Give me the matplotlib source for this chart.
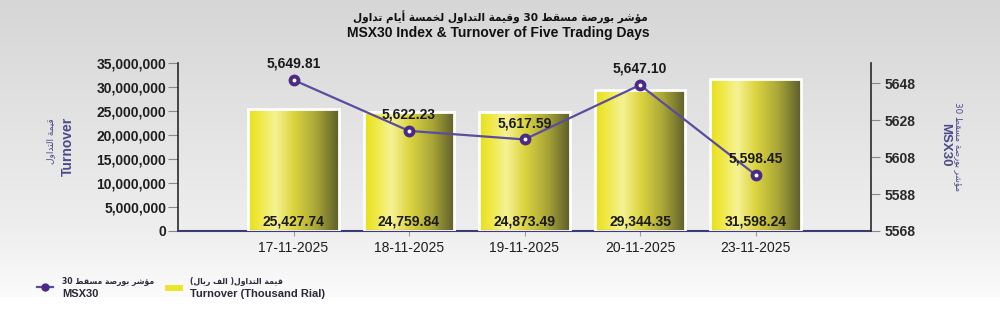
import re
import numpy as np
import matplotlib
matplotlib.use("Agg")
import matplotlib.pyplot as plt
from matplotlib.colors import LinearSegmentedColormap
from matplotlib.lines import Line2D
from matplotlib.patches import Rectangle
from matplotlib.ticker import FuncFormatter, FixedLocator

# ---------------- data ----------------
dates = ["17-11-2025", "18-11-2025", "19-11-2025", "20-11-2025", "23-11-2025"]
turnover_k = [25427.74, 24759.84, 24873.49, 29344.35, 31598.24]   # thousand rial
index_vals = [5649.81, 5622.23, 5617.59, 5647.10, 5598.45]
left_ticks = [0, 5000000, 10000000, 15000000, 20000000, 25000000, 30000000, 35000000]
right_ticks = [5568, 5588, 5608, 5628, 5648]

title_ar = "مؤشر بورصة مسقط 30 وقيمة التداول لخمسة أيام تداول"
title_en = "MSX30 Index & Turnover of Five Trading Days"
ylab_ar = "قيمة التداول"
ylab_en = "Turnover"
y2lab_ar = "مؤشر بورصة مسقط 30"
y2lab_en = "MSX30"
leg_line_ar = "مؤشر بورصة مسقط 30"
leg_line_en = "MSX30"
leg_bar_ar = "قيمة التداول( الف ريال)"
leg_bar_en = "Turnover (Thousand Rial)"

# ------------- minimal Arabic shaping (presentation forms + RTL order) -------------
FORMS = {
    '\u0627': ('\uFE8D', '\uFE8E', None, None),
    '\u0623': ('\uFE83', '\uFE84', None, None),
    '\u0624': ('\uFE85', '\uFE86', None, None),
    '\u0628': ('\uFE8F', '\uFE90', '\uFE91', '\uFE92'),
    '\u0629': ('\uFE93', '\uFE94', None, None),
    '\u062A': ('\uFE95', '\uFE96', '\uFE97', '\uFE98'),
    '\u062E': ('\uFEA5', '\uFEA6', '\uFEA7', '\uFEA8'),
    '\u062F': ('\uFEA9', '\uFEAA', None, None),
    '\u0631': ('\uFEAD', '\uFEAE', None, None),
    '\u0633': ('\uFEB1', '\uFEB2', '\uFEB3', '\uFEB4'),
    '\u0634': ('\uFEB5', '\uFEB6', '\uFEB7', '\uFEB8'),
    '\u0635': ('\uFEB9', '\uFEBA', '\uFEBB', '\uFEBC'),
    '\u0637': ('\uFEC1', '\uFEC2', '\uFEC3', '\uFEC4'),
    '\u0641': ('\uFED1', '\uFED2', '\uFED3', '\uFED4'),
    '\u0642': ('\uFED5', '\uFED6', '\uFED7', '\uFED8'),
    '\u0644': ('\uFEDD', '\uFEDE', '\uFEDF', '\uFEE0'),
    '\u0645': ('\uFEE1', '\uFEE2', '\uFEE3', '\uFEE4'),
    '\u0648': ('\uFEED', '\uFEEE', None, None),
    '\u064A': ('\uFEF1', '\uFEF2', '\uFEF3', '\uFEF4'),
}


def ar(text):
    out = []
    n = len(text)
    for i, c in enumerate(text):
        if c not in FORMS:
            out.append(c)
            continue
        iso, fin, ini, med = FORMS[c]
        prev = text[i - 1] if i > 0 else ''
        nxt = text[i + 1] if i < n - 1 else ''
        jp = prev in FORMS and FORMS[prev][2] is not None
        jn = ini is not None and nxt in FORMS
        if jp and jn:
            f = med
        elif jp:
            f = fin
        elif jn:
            f = ini
        else:
            f = iso
        out.append(f)
    s = ''.join(out)[::-1]
    s = re.sub(r'[0-9]+', lambda m: m.group(0)[::-1], s)
    s = s.translate(str.maketrans('()', ')('))
    return s


plt.rcParams['font.family'] = ['Liberation Sans', 'DejaVu Sans']
AR_FONT = ['DejaVu Sans']

W, H = 1000, 321
fig = plt.figure(figsize=(W / 100, H / 100), dpi=100)


def fx(px):
    return px / W


def fy(py):
    return 1 - py / H


# ---------------- background gradient ----------------
bg = fig.add_axes([0, 0, 1, 1], zorder=-10)
bg.set_axis_off()
top_c = np.array([0.84, 0.84, 0.84])
mid_c = np.array([0.935, 0.935, 0.935])
bot_c = np.array([0.985, 0.985, 0.985])
img = np.ones((H, 1, 3))
for r in range(H):
    if r < 231:
        t = r / 231
        c = top_c * (1 - t) + mid_c * t
    elif r < 297:
        t = (r - 231) / 66
        c = mid_c * (1 - t) + bot_c * t
    else:
        c = np.array([1.0, 1.0, 1.0])
    img[r, 0] = c
bg.imshow(img, aspect='auto', extent=[0, 1, 0, 1], interpolation='bilinear')
bg.set_xlim(0, 1)
bg.set_ylim(0, 1)

# ---------------- main axes ----------------
ax = fig.add_axes([fx(178), fy(231), fx(871) - fx(178), fy(63) - fy(231)])
ax.set_facecolor('none')
x = np.arange(len(dates))
heights = [v * 1000 for v in turnover_k]

cmap = LinearSegmentedColormap.from_list('barg', [
    (0.0, '#e8df1c'), (0.12, '#efe841'), (0.3, '#f6f294'), (0.5, '#dcd540'),
    (0.75, '#aaa637'), (1.0, '#5d5e2c')])
grad = np.linspace(0, 1, 256).reshape(1, -1)

bars = ax.bar(x, heights, width=0.78, facecolor='none', edgecolor='white',
              linewidth=2, zorder=3)
for b in bars:
    x0, y0 = b.get_x(), b.get_y()
    im = ax.imshow(grad, extent=[x0, x0 + b.get_width(), y0, y0 + b.get_height()],
                   aspect='auto', cmap=cmap, zorder=2, interpolation='bicubic')
    im.set_clip_path(b)

ax.set_xlim(-1, 5)
ax.set_ylim(0, 35000000)
ax.set_aspect('auto')
ax.yaxis.set_major_locator(FixedLocator(left_ticks))
ax.yaxis.set_major_formatter(FuncFormatter(lambda v, p: f"{int(v):,}"))
ax.set_xticks(x)
ax.set_xticklabels(dates)
for lbl in ax.get_yticklabels():
    lbl.set_fontweight('bold')
ax.tick_params(axis='y', labelsize=10, colors='#888888', labelcolor='#1e1e1e',
               length=7, width=0.8, pad=1.5)
ax.tick_params(axis='x', labelsize=10, colors='#9a9aa8', labelcolor='#1e1e1e',
               length=3.5, width=0.8, pad=4)
ax.spines['top'].set_visible(False)
ax.spines['right'].set_visible(False)
ax.spines['left'].set_color('#2a2a2a')
ax.spines['left'].set_linewidth(1.2)
ax.spines['bottom'].set_color('#3c3c72')
ax.spines['bottom'].set_linewidth(1.5)

for i, v in enumerate(turnover_k):
    ax.annotate(f"{v:,.2f}", xy=(x[i], 0), xytext=(0, 6.5), textcoords='offset points',
                ha='center', va='center', fontsize=10, fontweight='bold',
                color='#1a1a1a', zorder=5)

# ---------------- secondary axis (index) ----------------
ax2 = ax.twinx()
ax2.set_ylim(5568, 5659)
ax2.yaxis.set_major_locator(FixedLocator(right_ticks))
ax2.plot(x, index_vals, color='#5b4c9c', linewidth=1.6, zorder=4,
         marker='o', markersize=7.5, markerfacecolor='#4b2a86',
         markeredgecolor='#4b2a86')
ax2.plot(x, index_vals, linestyle='none', marker='o', markersize=1.8,
         markerfacecolor='white', markeredgecolor='white', zorder=5)
for i, v in enumerate(index_vals):
    ax2.annotate(f"{v:,.2f}", xy=(x[i], v), xytext=(0, 11.5), textcoords='offset points',
                 ha='center', va='center', fontsize=10, fontweight='bold',
                 color='#1a1a1a', zorder=6)
for lbl in ax2.get_yticklabels():
    lbl.set_fontweight('bold')
ax2.tick_params(axis='y', labelsize=10, colors='#888888', labelcolor='#2a2a2a',
                length=6.5, width=0.8, pad=3)
for s in ['top', 'left', 'bottom']:
    ax2.spines[s].set_visible(False)
ax2.spines['right'].set_color('#2a2a2a')
ax2.spines['right'].set_linewidth(1.2)

# ---------------- titles & axis labels ----------------
fig.text(0.5, fy(17), ar(title_ar), ha='center', va='center', fontsize=7.6,
         fontweight='bold', color='#111111', family=AR_FONT)
fig.text(fx(498), fy(33), title_en, ha='center', va='center', fontsize=10,
         fontweight='bold', color='#111111')

lab_col = '#4b4b8c'
fig.text(fx(51), fy(141), ar(ylab_ar), rotation=90, ha='center', va='center',
         fontsize=6.5, color=lab_col, family=AR_FONT)
fig.text(fx(68), fy(146), ylab_en, rotation=90, ha='center', va='center',
         fontsize=10, fontweight='bold', color=lab_col)
fig.text(fx(958), fy(147), ar(y2lab_ar), rotation=270, ha='center', va='center',
         fontsize=6.3, color=lab_col, family=AR_FONT)
fig.text(fx(945), fy(145), y2lab_en, rotation=270, ha='center', va='center',
         fontsize=9.5, fontweight='bold', color=lab_col)

# ---------------- legend ----------------
fig.add_artist(Line2D([fx(37), fx(53)], [fy(287), fy(287)], transform=fig.transFigure,
                      color='#5b4c9c', linewidth=1.6))
fig.add_artist(Line2D([fx(45)], [fy(287)], transform=fig.transFigure, marker='o',
                      markersize=5, color='#4b2a86', linestyle='none'))
fig.add_artist(Rectangle((fx(165), fy(291)), fx(18), fy(285) - fy(291),
                         transform=fig.transFigure, facecolor='#ece62a',
                         edgecolor='none'))
leg_col = '#2a2a3a'
fig.text(fx(62), fy(281), ar(leg_line_ar), ha='left', va='center', fontsize=5.6,
         fontweight='bold', color=leg_col, family=AR_FONT)
fig.text(fx(62), fy(294), leg_line_en, ha='left', va='center', fontsize=8,
         fontweight='bold', color=leg_col)
fig.text(fx(190), fy(281), ar(leg_bar_ar), ha='left', va='center', fontsize=5.6,
         fontweight='bold', color=leg_col, family=AR_FONT)
fig.text(fx(190), fy(294), leg_bar_en, ha='left', va='center', fontsize=8,
         fontweight='bold', color=leg_col)

fig.savefig('out.png', dpi=100)
